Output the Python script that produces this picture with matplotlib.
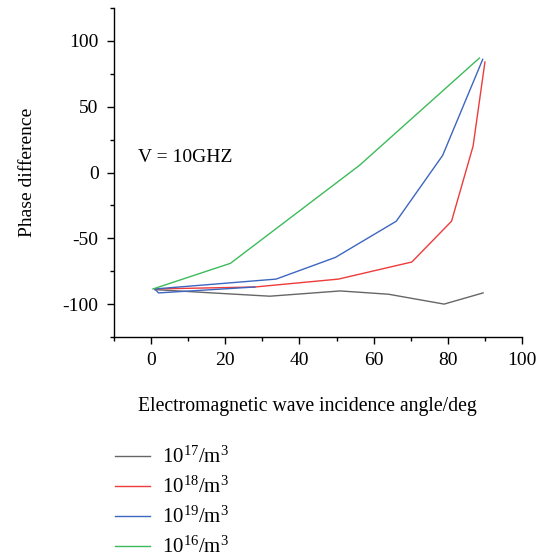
import numpy as np
import matplotlib
matplotlib.use('Agg')
import matplotlib.pyplot as plt

plt.rcParams['font.family'] = 'Liberation Serif'
plt.rcParams['mathtext.fontset'] = 'custom'
plt.rcParams['mathtext.rm'] = 'Liberation Serif'

# data (angle in deg, phase difference)
angle_17 = [1, 32, 51, 64, 79, 89.5]
phase_17 = [-89, -94, -90, -92.5, -100, -91.5]

angle_18 = [1, 28, 50.5, 70.3, 81, 86.8, 90]
phase_18 = [-88.5, -87, -81, -68, -37, 20, 84]

angle_19 = [28, 2, 1, 33.7, 49.7, 66.1, 78.6, 89.4]
phase_19 = [-87, -91.5, -88.5, -81, -64.5, -37, 13, 86]

angle_16 = [0.5, 21.4, 56.2, 88.5]
phase_16 = [-88.5, -69, 5.5, 87]

labels = [r'$\mathregular{10^{17}/m^3}$', r'$\mathregular{10^{18}/m^3}$',
          r'$\mathregular{10^{19}/m^3}$', r'$\mathregular{10^{16}/m^3}$']
colors = ['#666666', '#ee3b3b', '#3d66c0', '#3dbb5a']

fig = plt.figure(figsize=(5.52, 5.57), dpi=100)
ax = fig.add_axes([0.2065, 0.395, 0.7392, 0.5905])

series = [(angle_17, phase_17), (angle_18, phase_18), (angle_19, phase_19), (angle_16, phase_16)]
for (xs, ys), c, lab in zip(series, colors, labels):
    ax.plot(xs, ys, color=c, lw=1.0, label=lab)

ax.set_xlim(-10, 100)
ax.set_ylim(-125, 125)
ax.set_xticks([0, 20, 40, 60, 80, 100])
ax.set_xticks(np.arange(-10, 101, 10), minor=True)
ax.set_yticks([-100, -50, 0, 50, 100])
ax.set_yticks(np.arange(-125, 126, 25), minor=True)
ax.set_yticklabels(['-100', '-50', '0', '50', '100'])
ax.tick_params(labelsize=14, direction='out', length=5, width=1, pad=6)
ax.tick_params(which='minor', direction='out', length=3, width=1)
for s in ['top', 'right']:
    ax.spines[s].set_visible(False)
for s in ['left', 'bottom']:
    ax.spines[s].set_linewidth(1)

ax.text(-3.5, 11.5, 'V = 10GHZ', fontsize=14, va='center', ha='left')
ax.set_ylabel('Phase difference', fontsize=14, labelpad=19)
fig.text(307 / 552, 1 - 407 / 557, 'Electromagnetic wave incidence angle/deg',
         fontsize=14.2, ha='center', va='center')

fig.legend(loc='upper left', bbox_to_anchor=(96 / 552, 1 - 428 / 557), frameon=False,
           fontsize=15, handlelength=1.7, handletextpad=0.55, labelspacing=0.42)

fig.savefig('out.png', dpi=100)
